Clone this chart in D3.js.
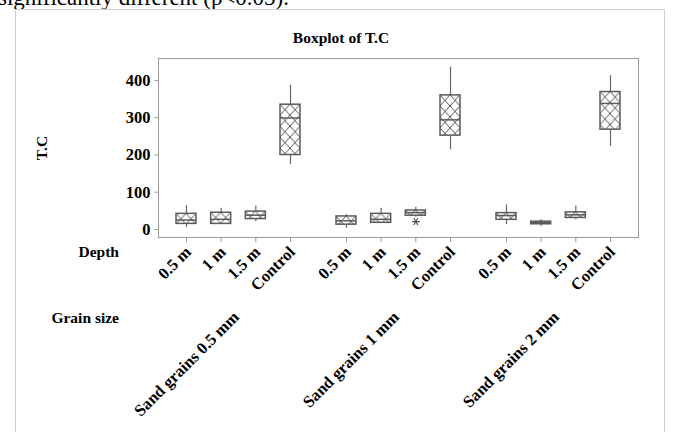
<!DOCTYPE html>
<html>
<head>
<meta charset="utf-8">
<script src="https://cdnjs.cloudflare.com/ajax/libs/d3/7.8.5/d3.min.js"></script>
<style>
  body { margin: 0; background: #fff; }
  text { font-family: "Liberation Serif", "Times New Roman", serif; }
</style>
</head>
<body>
<svg id="chart"></svg>
<script>
// categories
const grainSizes = ['Sand grains 0.5 mm', 'Sand grains 1 mm', 'Sand grains 2 mm'];
const depths = ['0.5 m', '1 m', '1.5 m', 'Control'];

// box stats, one entry per grain size x depth (row order)
const whiskerLow  = [6, 14, 21, 174,   4, 18, 33, 214,   13, 8, 26, 223];
const q1          = [15, 15, 28, 200,  13, 18, 37, 252,  26, 14, 31, 268];
const median      = [24, 26, 37, 298,  22, 26, 44, 293,  36, 17, 38, 337];
const q3          = [42, 45, 48, 335,  35, 42, 51, 360,  44, 21, 46, 369];
const whiskerHigh = [64, 57, 63, 387,  40, 57, 60, 436,  66, 26, 63, 413];
const outliers    = [[], [], [], [],   [], [], [20], [], [], [], [], []];

const yTicks = [0, 100, 200, 300, 400];

const width = 674, height = 432;
const plot = { left: 158, right: 638, top: 58, bottom: 237 };

const svg = d3.select('#chart')
    .attr('width', width)
    .attr('height', height);

svg.append('rect').attr('width', width).attr('height', height).attr('fill', '#fff');

// text cut at the top of the page (as in the source document)
svg.append('text')
    .attr('x', -2).attr('y', 5)
    .attr('font-size', 23)
    .attr('fill', '#000')
    .text('significantly different (p<0.05).');

// outer figure border
svg.append('rect')
    .attr('x', 15.5).attr('y', 9.5)
    .attr('width', 649).attr('height', 440)
    .attr('fill', 'none')
    .attr('stroke', '#cfcfcf');

const rows = [];
grainSizes.forEach((g, gi) => {
  depths.forEach((d, di) => {
    const i = gi * depths.length + di;
    rows.push({
      grain: g, depth: d, i: i,
      lo: whiskerLow[i], q1: q1[i], med: median[i], q3: q3[i], hi: whiskerHigh[i],
      out: outliers[i]
    });
  });
});

const xGroup = d3.scaleBand()
    .domain(grainSizes)
    .range([plot.left, plot.right])
    .paddingInner(0).paddingOuter(0);

const bw = xGroup.bandwidth();
const xDepth = d3.scalePoint()
    .domain(depths)
    .range([bw / 2 - 52, bw / 2 + 52]);

const xPos = r => xGroup(r.grain) + xDepth(r.depth);

const yScale = d3.scaleLinear()
    .domain([-21.5, 459])
    .range([plot.bottom, plot.top]);

// plot frame
svg.append('rect')
    .attr('x', plot.left + 0.5).attr('y', plot.top + 0.5)
    .attr('width', plot.right - plot.left).attr('height', plot.bottom - plot.top)
    .attr('fill', 'none')
    .attr('stroke', '#9a9a9a');

// title
svg.append('text')
    .attr('x', 341).attr('y', 43)
    .attr('text-anchor', 'middle')
    .attr('font-size', 15.5).attr('font-weight', 'bold')
    .text('Boxplot of T.C');

// y axis
const yAxis = d3.axisLeft(yScale).tickValues(yTicks).tickSize(4).tickPadding(4);
const gy = svg.append('g')
    .attr('transform', 'translate(' + (plot.left + 0.5) + ',0)')
    .call(yAxis);
gy.select('.domain').remove();
gy.selectAll('.tick line').attr('stroke', '#9a9a9a');
gy.selectAll('.tick text')
    .attr('font-family', '"Liberation Serif", serif')
    .attr('font-size', 16.5).attr('font-weight', 'bold').attr('fill', '#000');

svg.append('text')
    .attr('transform', 'translate(47,148) rotate(-90)')
    .attr('text-anchor', 'middle')
    .attr('font-size', 15.5).attr('font-weight', 'bold')
    .text('T.C');

// x ticks and labels
const gx = svg.append('g');
gx.selectAll('line.xtick')
    .data(rows)
  .enter().append('line')
    .attr('class', 'xtick')
    .attr('x1', r => xPos(r) + 0.5).attr('x2', r => xPos(r) + 0.5)
    .attr('y1', plot.bottom).attr('y2', plot.bottom + 5)
    .attr('stroke', '#9a9a9a');

gx.selectAll('text.depth')
    .data(rows)
  .enter().append('text')
    .attr('class', 'depth')
    .attr('transform', r => 'translate(' + (xPos(r) + 6) + ',253) rotate(-45)')
    .attr('text-anchor', 'end')
    .attr('font-size', 16.5).attr('font-weight', 'bold')
    .text(r => r.depth);

gx.selectAll('text.grain')
    .data(grainSizes)
  .enter().append('text')
    .attr('class', 'grain')
    .attr('transform', g => 'translate(' + (xGroup(g) + bw / 2 + 2) + ',318) rotate(-45)')
    .attr('text-anchor', 'end')
    .attr('font-size', 16.5).attr('font-weight', 'bold')
    .text(g => g);

svg.append('text')
    .attr('x', 119).attr('y', 257)
    .attr('text-anchor', 'end')
    .attr('font-size', 15.5).attr('font-weight', 'bold')
    .text('Depth');

svg.append('text')
    .attr('x', 119).attr('y', 323)
    .attr('text-anchor', 'end')
    .attr('font-size', 15.5).attr('font-weight', 'bold')
    .text('Grain size');

// boxes
const boxW = 20;
const defs = svg.append('defs');
rows.forEach(r => {
  const p = defs.append('pattern')
      .attr('id', 'hatch' + r.i)
      .attr('patternUnits', 'userSpaceOnUse')
      .attr('x', xPos(r) - boxW / 2).attr('y', yScale(r.q3))
      .attr('width', 10).attr('height', 11);
  p.append('rect').attr('width', 10).attr('height', 11).attr('fill', '#fff');
  p.append('path')
      .attr('d', 'M0,0L10,11M10,0L0,11')
      .attr('stroke', '#555').attr('stroke-width', 1);
});

const boxes = svg.selectAll('g.box')
    .data(rows)
  .enter().append('g')
    .attr('class', 'box');

boxes.append('line')
    .attr('x1', r => xPos(r) + 0.5).attr('x2', r => xPos(r) + 0.5)
    .attr('y1', r => yScale(r.lo)).attr('y2', r => yScale(r.hi))
    .attr('stroke', '#666').attr('stroke-width', 1.2);

boxes.append('rect')
    .attr('x', r => xPos(r) - boxW / 2)
    .attr('y', r => yScale(r.q3))
    .attr('width', boxW)
    .attr('height', r => yScale(r.q1) - yScale(r.q3))
    .attr('fill', r => 'url(#hatch' + r.i + ')')
    .attr('stroke', '#5a5a5a').attr('stroke-width', 1.5);

boxes.append('line')
    .attr('x1', r => xPos(r) - boxW / 2).attr('x2', r => xPos(r) + boxW / 2)
    .attr('y1', r => yScale(r.med)).attr('y2', r => yScale(r.med))
    .attr('stroke', '#5a5a5a').attr('stroke-width', 1.5);

const star = d3.symbol(d3.symbolAsterisk, 45);
boxes.selectAll('path.outlier')
    .data(r => r.out.map(v => ({ v: v, x: xPos(r) })))
  .enter().append('path')
    .attr('class', 'outlier')
    .attr('transform', o => 'translate(' + (o.x + 0.5) + ',' + yScale(o.v) + ') rotate(90)')
    .attr('d', star)
    .attr('fill', 'none')
    .attr('stroke', '#555').attr('stroke-width', 1.2);
</script>
</body>
</html>
